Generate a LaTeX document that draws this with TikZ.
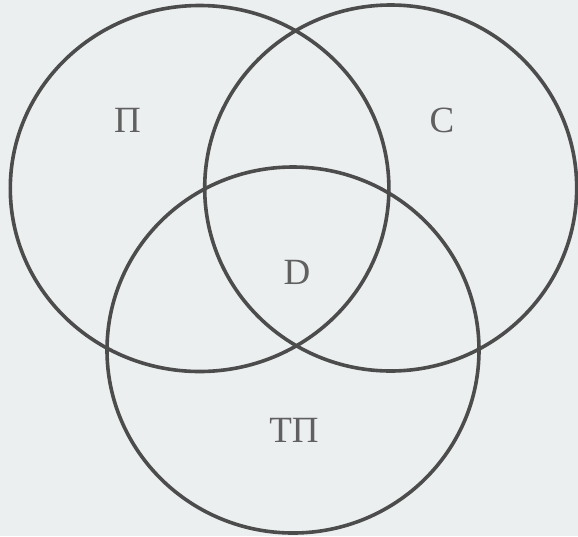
\documentclass[tikz,border=0pt]{standalone}
\usepackage{fontspec}
\setmainfont{Liberation Serif}
\definecolor{ringc}{HTML}{4C4C4C}
\definecolor{txtc}{HTML}{606060}
\definecolor{bgc}{HTML}{ECEFF0}
\tikzset{
  ring/.style={draw=ringc, line width=3.6pt, fill=none},
  lbl/.style={text=txtc, font=\fontsize{37}{37}\selectfont, inner sep=0pt, anchor=center}
}
\begin{document}
\begin{tikzpicture}[x=1pt,y=-1pt]
\fill[bgc] (0,0) rectangle (578,536);
\useasboundingbox (0,0) rectangle (578,536);
\draw[ring] (199.6,188.5) ellipse [x radius=189.3, y radius=183];
\draw[ring] (390.7,188) ellipse [x radius=186, y radius=183];
\draw[ring] (293,350) ellipse [x radius=186, y radius=183];
\node[lbl] (p) at (127.5,120) {П};
\node[lbl] (s) at (442,120) {С};
\node[lbl] (d) at (297,272) {D};
\node[lbl] (tp) at (294,430) {ТП};
\end{tikzpicture}
\end{document}
